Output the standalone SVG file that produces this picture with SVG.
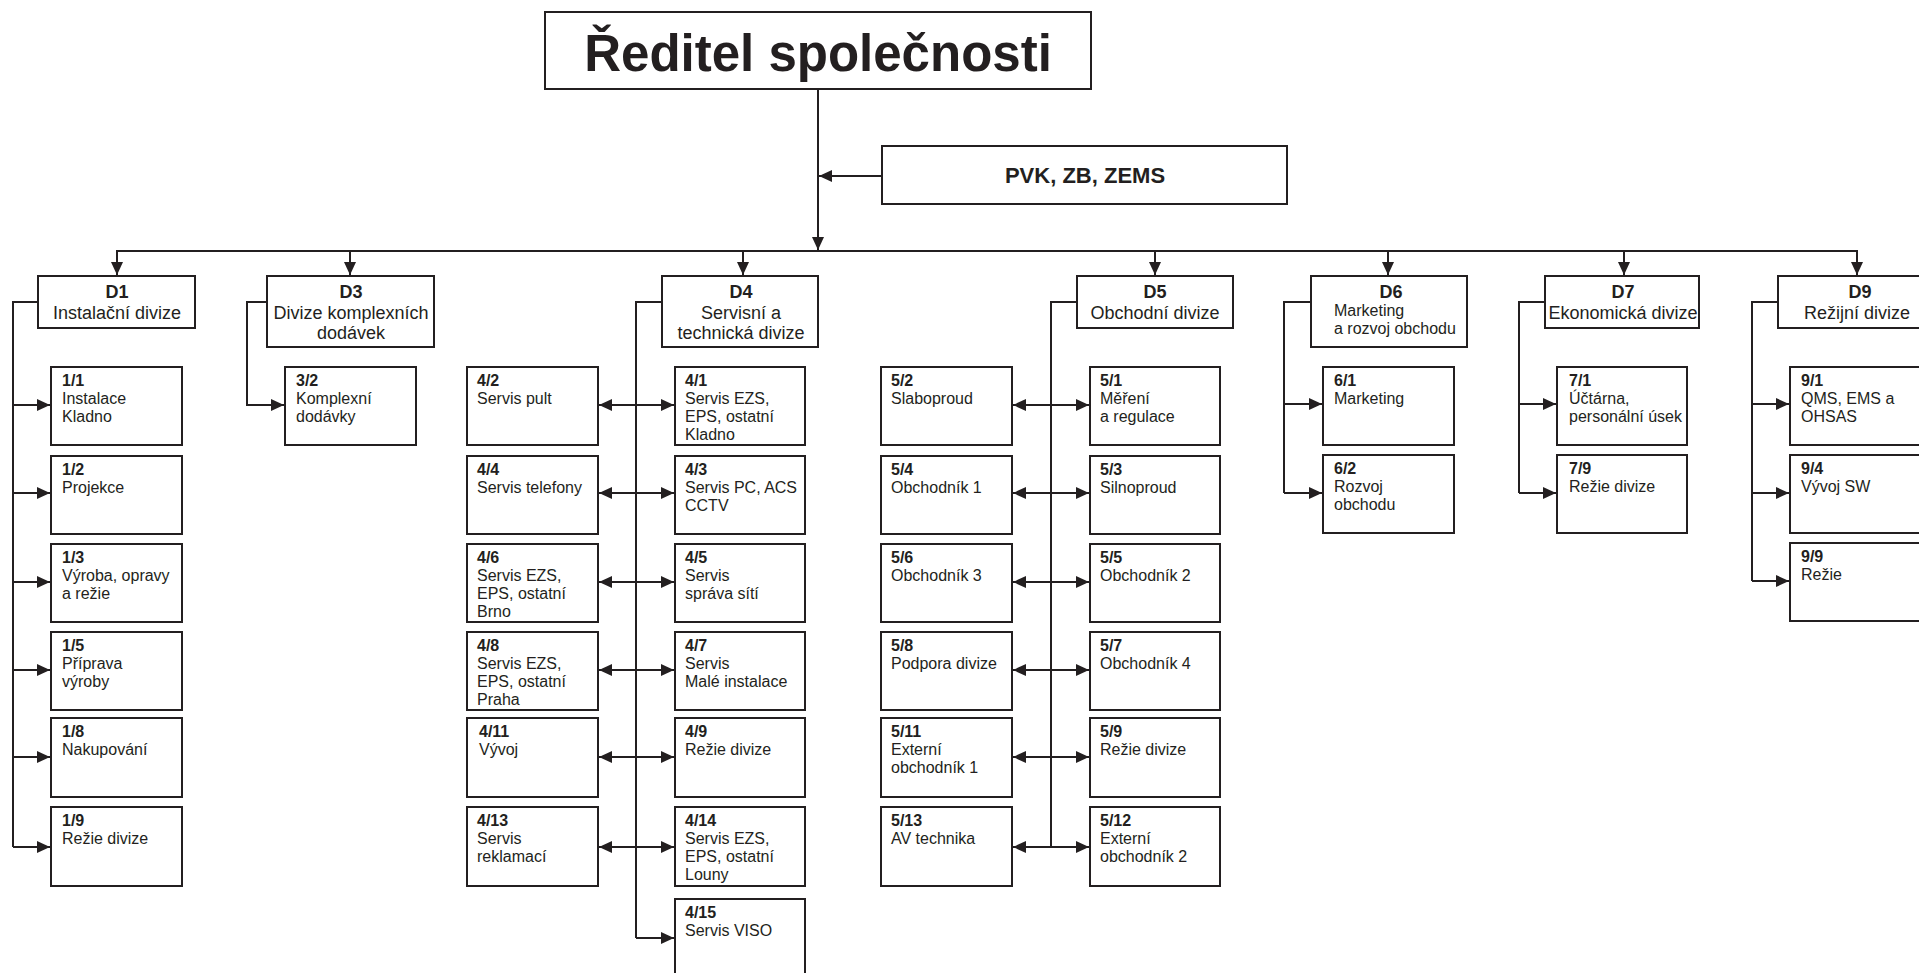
<svg xmlns="http://www.w3.org/2000/svg" width="1919" height="973" viewBox="0 0 1919 973">
<style>
.box{fill:#fff;stroke:#231f20;stroke-width:2}
.ln{fill:none;stroke:#231f20;stroke-width:2}
.ar{fill:none;stroke:#231f20;stroke-width:2;marker-end:url(#ah)}
.da{fill:none;stroke:#231f20;stroke-width:2;marker-end:url(#ah);marker-start:url(#ah)}
.t{font-family:"Liberation Sans",Arial,sans-serif;font-size:16px;fill:#231f20}
.h{font-family:"Liberation Sans",Arial,sans-serif;font-size:18px;fill:#231f20;text-anchor:middle}
.b{font-weight:bold}
</style>
<defs>
<marker id="ah" markerUnits="userSpaceOnUse" markerWidth="13" markerHeight="12" refX="13" refY="6" orient="auto-start-reverse" viewBox="0 0 13 12">
<path d="M0,0 L13,6 L0,12 z" fill="#231f20"/>
</marker>
</defs>
<rect width="1919" height="973" fill="#fff"/>

<g id="connectors">
<line class="ar" x1="818" y1="89" x2="818" y2="250"/>
<line class="ar" x1="882" y1="176" x2="819" y2="176"/>
<line class="ln" x1="116" y1="251" x2="1858" y2="251"/>
<line class="ar" x1="117" y1="251" x2="117" y2="275"/>
<line class="ar" x1="350" y1="251" x2="350" y2="275"/>
<line class="ar" x1="743" y1="251" x2="743" y2="275"/>
<line class="ar" x1="1155" y1="251" x2="1155" y2="275"/>
<line class="ar" x1="1388" y1="251" x2="1388" y2="275"/>
<line class="ar" x1="1624" y1="251" x2="1624" y2="275"/>
<line class="ar" x1="1857" y1="251" x2="1857" y2="275"/>
<!-- D1 -->
<polyline class="ln" points="38,302 13,302 13,847"/>
<line class="ar" x1="13" y1="405" x2="50" y2="405"/>
<line class="ar" x1="13" y1="493" x2="50" y2="493"/>
<line class="ar" x1="13" y1="582" x2="50" y2="582"/>
<line class="ar" x1="13" y1="670" x2="50" y2="670"/>
<line class="ar" x1="13" y1="757" x2="50" y2="757"/>
<line class="ar" x1="13" y1="847" x2="50" y2="847"/>
<!-- D3 -->
<polyline class="ar" points="267,302 247,302 247,405 284,405"/>
<!-- D4 -->
<polyline class="ln" points="662,302 636,302 636,938"/>
<line class="ar" x1="636" y1="938" x2="674" y2="938"/>
<line class="da" x1="599" y1="405" x2="674" y2="405"/>
<line class="da" x1="599" y1="493" x2="674" y2="493"/>
<line class="da" x1="599" y1="582" x2="674" y2="582"/>
<line class="da" x1="599" y1="670" x2="674" y2="670"/>
<line class="da" x1="599" y1="757" x2="674" y2="757"/>
<line class="da" x1="599" y1="847" x2="674" y2="847"/>
<!-- D5 -->
<polyline class="ln" points="1077,302 1051,302 1051,847"/>
<line class="da" x1="1013" y1="405" x2="1089" y2="405"/>
<line class="da" x1="1013" y1="493" x2="1089" y2="493"/>
<line class="da" x1="1013" y1="582" x2="1089" y2="582"/>
<line class="da" x1="1013" y1="670" x2="1089" y2="670"/>
<line class="da" x1="1013" y1="757" x2="1089" y2="757"/>
<line class="da" x1="1013" y1="847" x2="1089" y2="847"/>
<!-- D6 -->
<polyline class="ln" points="1311,302 1284,302 1284,493"/>
<line class="ar" x1="1284" y1="404" x2="1322" y2="404"/>
<line class="ar" x1="1284" y1="493" x2="1322" y2="493"/>
<!-- D7 -->
<polyline class="ln" points="1545,302 1519,302 1519,493"/>
<line class="ar" x1="1519" y1="404" x2="1556" y2="404"/>
<line class="ar" x1="1519" y1="493" x2="1556" y2="493"/>
<!-- D9 -->
<polyline class="ln" points="1778,302 1752,302 1752,581"/>
<line class="ar" x1="1752" y1="404" x2="1789" y2="404"/>
<line class="ar" x1="1752" y1="493" x2="1789" y2="493"/>
<line class="ar" x1="1752" y1="581" x2="1789" y2="581"/>
</g>

<g id="director">
<rect class="box" x="545" y="12" width="546" height="77"/>
<text x="818" y="71" font-family="Liberation Sans, Arial, sans-serif" font-size="51" font-weight="bold" fill="#231f20" text-anchor="middle">Ředitel společnosti</text>
</g>
<g id="pvk">
<rect class="box" x="882" y="146" width="405" height="58"/>
<text x="1085" y="183" font-family="Liberation Sans, Arial, sans-serif" font-size="22" font-weight="bold" fill="#231f20" text-anchor="middle">PVK, ZB, ZEMS</text>
</g>

<g id="D1"><rect class="box" x="38" y="276" width="157" height="52"/>
<text class="h"><tspan class="b" x="117" y="298">D1</tspan><tspan x="117" y="319">Instalační divize</tspan></text></g>
<g id="D3"><rect class="box" x="267" y="276" width="167" height="71"/>
<text class="h"><tspan class="b" x="351" y="298">D3</tspan><tspan x="351" y="319">Divize komplexních</tspan><tspan x="351" y="339">dodávek</tspan></text></g>
<g id="D4"><rect class="box" x="662" y="276" width="156" height="71"/>
<text class="h"><tspan class="b" x="741" y="298">D4</tspan><tspan x="741" y="319">Servisní a</tspan><tspan x="741" y="339">technická divize</tspan></text></g>
<g id="D5"><rect class="box" x="1077" y="276" width="156" height="52"/>
<text class="h"><tspan class="b" x="1155" y="298">D5</tspan><tspan x="1155" y="319">Obchodní divize</tspan></text></g>
<g id="D6"><rect class="box" x="1311" y="276" width="156" height="71"/>
<text class="h"><tspan class="b" x="1391" y="298">D6</tspan></text>
<text class="t"><tspan x="1334" y="316">Marketing</tspan><tspan x="1334" y="334">a rozvoj obchodu</tspan></text></g>
<g id="D7"><rect class="box" x="1545" y="276" width="154" height="52"/>
<text class="h"><tspan class="b" x="1623" y="298">D7</tspan><tspan x="1623" y="319">Ekonomická divize</tspan></text></g>
<g id="D9"><rect class="box" x="1778" y="276" width="157" height="52"/>
<text class="h"><tspan class="b" x="1860" y="298">D9</tspan><tspan x="1857" y="319">Režijní divize</tspan></text></g>

<g id="n1_1"><rect class="box" x="51" y="367" width="131" height="78"/><text class="t"><tspan class="b" x="62" y="386">1/1</tspan><tspan x="62" y="404">Instalace</tspan><tspan x="62" y="422">Kladno</tspan></text></g>
<g id="n1_2"><rect class="box" x="51" y="456" width="131" height="78"/><text class="t"><tspan class="b" x="62" y="475">1/2</tspan><tspan x="62" y="493">Projekce</tspan></text></g>
<g id="n1_3"><rect class="box" x="51" y="544" width="131" height="78"/><text class="t"><tspan class="b" x="62" y="563">1/3</tspan><tspan x="62" y="581">Výroba, opravy</tspan><tspan x="62" y="599">a režie</tspan></text></g>
<g id="n1_5"><rect class="box" x="51" y="632" width="131" height="78"/><text class="t"><tspan class="b" x="62" y="651">1/5</tspan><tspan x="62" y="669">Příprava</tspan><tspan x="62" y="687">výroby</tspan></text></g>
<g id="n1_8"><rect class="box" x="51" y="718" width="131" height="79"/><text class="t"><tspan class="b" x="62" y="737">1/8</tspan><tspan x="62" y="755">Nakupování</tspan></text></g>
<g id="n1_9"><rect class="box" x="51" y="807" width="131" height="79"/><text class="t"><tspan class="b" x="62" y="826">1/9</tspan><tspan x="62" y="844">Režie divize</tspan></text></g>

<g id="n3_2"><rect class="box" x="285" y="367" width="131" height="78"/><text class="t"><tspan class="b" x="296" y="386">3/2</tspan><tspan x="296" y="404">Komplexní</tspan><tspan x="296" y="422">dodávky</tspan></text></g>

<g id="n4_2"><rect class="box" x="467" y="367" width="131" height="78"/><text class="t"><tspan class="b" x="477" y="386">4/2</tspan><tspan x="477" y="404">Servis pult</tspan></text></g>
<g id="n4_4"><rect class="box" x="467" y="456" width="131" height="78"/><text class="t"><tspan class="b" x="477" y="475">4/4</tspan><tspan x="477" y="493">Servis telefony</tspan></text></g>
<g id="n4_6"><rect class="box" x="467" y="544" width="131" height="78"/><text class="t"><tspan class="b" x="477" y="563">4/6</tspan><tspan x="477" y="581">Servis EZS,</tspan><tspan x="477" y="599">EPS, ostatní</tspan><tspan x="477" y="617">Brno</tspan></text></g>
<g id="n4_8"><rect class="box" x="467" y="632" width="131" height="78"/><text class="t"><tspan class="b" x="477" y="651">4/8</tspan><tspan x="477" y="669">Servis EZS,</tspan><tspan x="477" y="687">EPS, ostatní</tspan><tspan x="477" y="705">Praha</tspan></text></g>
<g id="n4_11"><rect class="box" x="467" y="718" width="131" height="79"/><text class="t"><tspan class="b" x="479" y="737">4/11</tspan><tspan x="479" y="755">Vývoj</tspan></text></g>
<g id="n4_13"><rect class="box" x="467" y="807" width="131" height="79"/><text class="t"><tspan class="b" x="477" y="826">4/13</tspan><tspan x="477" y="844">Servis</tspan><tspan x="477" y="862">reklamací</tspan></text></g>

<g id="n4_1"><rect class="box" x="675" y="367" width="130" height="78"/><text class="t"><tspan class="b" x="685" y="386">4/1</tspan><tspan x="685" y="404">Servis EZS,</tspan><tspan x="685" y="422">EPS, ostatní</tspan><tspan x="685" y="440">Kladno</tspan></text></g>
<g id="n4_3"><rect class="box" x="675" y="456" width="130" height="78"/><text class="t"><tspan class="b" x="685" y="475">4/3</tspan><tspan x="685" y="493">Servis PC, ACS</tspan><tspan x="685" y="511">CCTV</tspan></text></g>
<g id="n4_5"><rect class="box" x="675" y="544" width="130" height="78"/><text class="t"><tspan class="b" x="685" y="563">4/5</tspan><tspan x="685" y="581">Servis</tspan><tspan x="685" y="599">správa sítí</tspan></text></g>
<g id="n4_7"><rect class="box" x="675" y="632" width="130" height="78"/><text class="t"><tspan class="b" x="685" y="651">4/7</tspan><tspan x="685" y="669">Servis</tspan><tspan x="685" y="687">Malé instalace</tspan></text></g>
<g id="n4_9"><rect class="box" x="675" y="718" width="130" height="79"/><text class="t"><tspan class="b" x="685" y="737">4/9</tspan><tspan x="685" y="755">Režie divize</tspan></text></g>
<g id="n4_14"><rect class="box" x="675" y="807" width="130" height="79"/><text class="t"><tspan class="b" x="685" y="826">4/14</tspan><tspan x="685" y="844">Servis EZS,</tspan><tspan x="685" y="862">EPS, ostatní</tspan><tspan x="685" y="880">Louny</tspan></text></g>
<g id="n4_15"><rect class="box" x="675" y="899" width="130" height="79"/><text class="t"><tspan class="b" x="685" y="918">4/15</tspan><tspan x="685" y="936">Servis VISO</tspan></text></g>

<g id="n5_2"><rect class="box" x="881" y="367" width="131" height="78"/><text class="t"><tspan class="b" x="891" y="386">5/2</tspan><tspan x="891" y="404">Slaboproud</tspan></text></g>
<g id="n5_4"><rect class="box" x="881" y="456" width="131" height="78"/><text class="t"><tspan class="b" x="891" y="475">5/4</tspan><tspan x="891" y="493">Obchodník 1</tspan></text></g>
<g id="n5_6"><rect class="box" x="881" y="544" width="131" height="78"/><text class="t"><tspan class="b" x="891" y="563">5/6</tspan><tspan x="891" y="581">Obchodník 3</tspan></text></g>
<g id="n5_8"><rect class="box" x="881" y="632" width="131" height="78"/><text class="t"><tspan class="b" x="891" y="651">5/8</tspan><tspan x="891" y="669">Podpora divize</tspan></text></g>
<g id="n5_11"><rect class="box" x="881" y="718" width="131" height="79"/><text class="t"><tspan class="b" x="891" y="737">5/11</tspan><tspan x="891" y="755">Externí</tspan><tspan x="891" y="773">obchodník 1</tspan></text></g>
<g id="n5_13"><rect class="box" x="881" y="807" width="131" height="79"/><text class="t"><tspan class="b" x="891" y="826">5/13</tspan><tspan x="891" y="844">AV technika</tspan></text></g>

<g id="n5_1"><rect class="box" x="1090" y="367" width="130" height="78"/><text class="t"><tspan class="b" x="1100" y="386">5/1</tspan><tspan x="1100" y="404">Měření</tspan><tspan x="1100" y="422">a regulace</tspan></text></g>
<g id="n5_3"><rect class="box" x="1090" y="456" width="130" height="78"/><text class="t"><tspan class="b" x="1100" y="475">5/3</tspan><tspan x="1100" y="493">Silnoproud</tspan></text></g>
<g id="n5_5"><rect class="box" x="1090" y="544" width="130" height="78"/><text class="t"><tspan class="b" x="1100" y="563">5/5</tspan><tspan x="1100" y="581">Obchodník 2</tspan></text></g>
<g id="n5_7"><rect class="box" x="1090" y="632" width="130" height="78"/><text class="t"><tspan class="b" x="1100" y="651">5/7</tspan><tspan x="1100" y="669">Obchodník 4</tspan></text></g>
<g id="n5_9"><rect class="box" x="1090" y="718" width="130" height="79"/><text class="t"><tspan class="b" x="1100" y="737">5/9</tspan><tspan x="1100" y="755">Režie divize</tspan></text></g>
<g id="n5_12"><rect class="box" x="1090" y="807" width="130" height="79"/><text class="t"><tspan class="b" x="1100" y="826">5/12</tspan><tspan x="1100" y="844">Externí</tspan><tspan x="1100" y="862">obchodník 2</tspan></text></g>

<g id="n6_1"><rect class="box" x="1323" y="367" width="131" height="78"/><text class="t"><tspan class="b" x="1334" y="386">6/1</tspan><tspan x="1334" y="404">Marketing</tspan></text></g>
<g id="n6_2"><rect class="box" x="1323" y="455" width="131" height="78"/><text class="t"><tspan class="b" x="1334" y="474">6/2</tspan><tspan x="1334" y="492">Rozvoj</tspan><tspan x="1334" y="510">obchodu</tspan></text></g>

<g id="n7_1"><rect class="box" x="1557" y="367" width="130" height="78"/><text class="t"><tspan class="b" x="1569" y="386">7/1</tspan><tspan x="1569" y="404">Účtárna,</tspan><tspan x="1569" y="422">personální úsek</tspan></text></g>
<g id="n7_9"><rect class="box" x="1557" y="455" width="130" height="78"/><text class="t"><tspan class="b" x="1569" y="474">7/9</tspan><tspan x="1569" y="492">Režie divize</tspan></text></g>

<g id="n9_1"><rect class="box" x="1790" y="367" width="131" height="78"/><text class="t"><tspan class="b" x="1801" y="386">9/1</tspan><tspan x="1801" y="404">QMS, EMS a</tspan><tspan x="1801" y="422">OHSAS</tspan></text></g>
<g id="n9_4"><rect class="box" x="1790" y="455" width="131" height="78"/><text class="t"><tspan class="b" x="1801" y="474">9/4</tspan><tspan x="1801" y="492">Vývoj SW</tspan></text></g>
<g id="n9_9"><rect class="box" x="1790" y="543" width="131" height="78"/><text class="t"><tspan class="b" x="1801" y="562">9/9</tspan><tspan x="1801" y="580">Režie</tspan></text></g>
</svg>
